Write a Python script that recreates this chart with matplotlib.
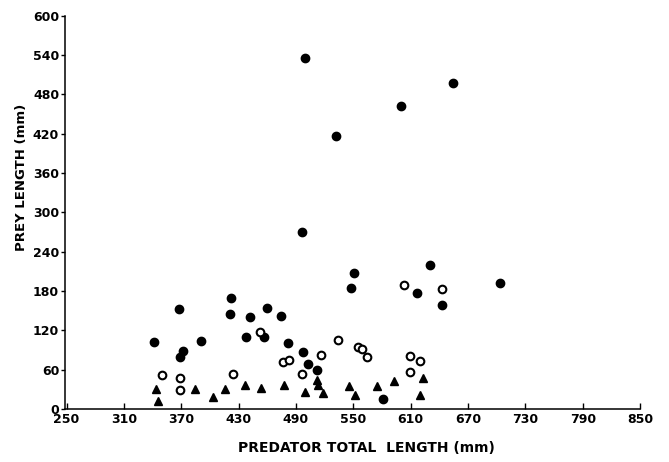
import matplotlib
matplotlib.use("Agg")
import matplotlib.pyplot as plt

# filled circles
solid_x = [499, 654, 600, 532, 496, 630, 551, 548, 703, 617, 643, 422, 368, 421,
           442, 460, 474, 341, 391, 438, 457, 372, 369, 482, 497, 503, 512, 581]
solid_y = [536, 498, 462, 417, 270, 220, 208, 185, 192, 177, 158, 169, 152, 145,
           141, 154, 142, 102, 104, 110, 110, 88, 80, 100, 87, 69, 59, 15]

# open circles
open_x = [603, 643, 452, 350, 369, 369, 424, 476, 483, 496, 516, 534, 555, 559,
          564, 609, 620, 609]
open_y = [189, 183, 117, 52, 48, 29, 54, 71, 75, 54, 82, 106, 94, 91,
          80, 81, 73, 57]

# triangles
tri_x = [344, 346, 384, 403, 416, 437, 453, 477, 499, 512, 513, 518, 546, 552,
         575, 593, 623, 620]
tri_y = [30, 12, 31, 19, 31, 36, 32, 36, 26, 44, 36, 24, 35, 22,
         35, 42, 48, 21]

xticks = [250, 310, 370, 430, 490, 550, 610, 670, 730, 790, 850]
yticks = [0, 60, 120, 180, 240, 300, 360, 420, 480, 540, 600]

plt.rcParams["font.family"] = ["DejaVu Sans"]
plt.rcParams["font.weight"] = "bold"

fig = plt.figure(figsize=(6.69, 4.62), dpi=100)
ax = fig.add_axes([0.0967, 0.1147, 0.86, 0.851])

ax.plot(solid_x, solid_y, "o", color="black", markersize=6, linestyle="none")
ax.plot(open_x, open_y, "o", markerfacecolor="white", markeredgecolor="black",
        markeredgewidth=1.5, markersize=5.5, linestyle="none")
ax.plot(tri_x, tri_y, "^", color="black", markersize=6.3, linestyle="none")

ax.set_xlim(248, 850)
ax.set_ylim(0, 600)
ax.set_xticks(xticks)
ax.set_yticks(yticks)
ax.tick_params(axis="x", direction="in", length=4, width=1, labelsize=9, pad=3)
ax.tick_params(axis="y", direction="out", length=3, width=1, labelsize=9, pad=1)

for side in ["top", "right"]:
    ax.spines[side].set_visible(False)
for side in ["left", "bottom"]:
    ax.spines[side].set_linewidth(1.1)

ax.set_xlabel("PREDATOR TOTAL  LENGTH (mm)", fontsize=10, fontweight="bold")
ax.xaxis.set_label_coords(0.525, -0.082)
ax.set_ylabel("PREY LENGTH (mm)", fontsize=9.5, fontweight="bold")
ax.yaxis.set_label_coords(-0.064, 0.59)

fig.savefig("out.png", dpi=100)
